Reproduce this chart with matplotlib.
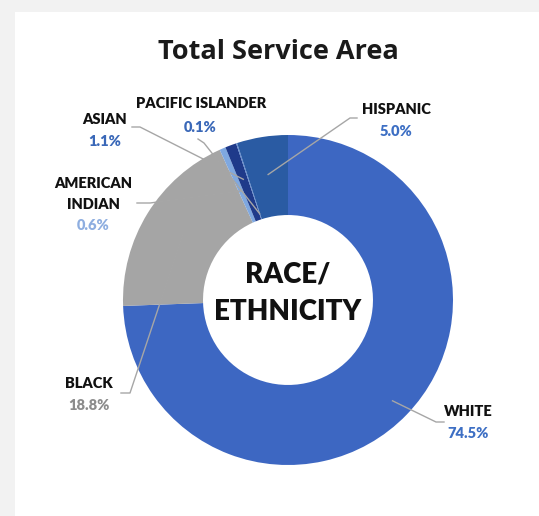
import numpy as np
import matplotlib.pyplot as plt
from matplotlib.patches import Rectangle

# data
groups = ['WHITE', 'BLACK', 'AMERICAN\nINDIAN', 'ASIAN', 'PACIFIC ISLANDER', 'HISPANIC']
shares = [74.5, 18.8, 0.6, 1.1, 0.1, 5.0]
pct_labels = ['74.5%', '18.8%', '0.6%', '1.1%', '0.1%', '5.0%']

slice_colors = ['#3d67c2', '#a5a5a5', '#7fa8e0', '#1f3a8a', '#5a86d0', '#2a5ba3']
pct_colors = ['#3d6fc4', '#8c8c8c', '#8eaee0', '#3a68b8', '#3a68b8', '#3d6fc4']

W, H = 539, 516


def Y(y):
    # pixel row (from top) -> data y
    return H - y


fig = plt.figure(figsize=(W / 100, H / 100), dpi=100, facecolor='#f2f2f2')
fig.patches.append(Rectangle((15 / W, 0), 1 - 15 / W, 1 - 12 / H,
                             transform=fig.transFigure, facecolor='white',
                             edgecolor='none', zorder=-1))
ax = fig.add_axes([0, 0, 1, 1])
ax.patch.set_alpha(0)

cx, cy, R = 288, Y(300), 165
wedges, _ = ax.pie(shares, colors=slice_colors, startangle=90, counterclock=False,
                   center=(cx, cy), radius=R,
                   wedgeprops=dict(width=R * 0.485, edgecolor='none'))
ax.set_xlim(0, W)
ax.set_ylim(0, H)
ax.axis('off')


def anchor(w, frac):
    th = np.deg2rad((w.theta1 + w.theta2) / 2)
    return cx + R * frac * np.cos(th), cy + R * frac * np.sin(th)


# label layout (pixel positions): name, pct, leader start points, anchor radius
layout = [
    ((468, 412), (468, 433), [(444, 422), (436, 422)], 0.88),
    ((89, 384), (89, 406), [(121, 393), (130, 393)], 0.75),
    ((93, 194), (93, 226), [(137, 203), (150, 203)], 0.72),
    ((105, 119), (105, 141), [(132, 127), (140, 127)], 0.78),
    ((201, 104), (200, 127), [(198, 139), (204, 143)], 0.55),
    ((396, 109), (396, 132), [(357, 118), (350, 118)], 0.77),
]

lbl_font = dict(family=['Lato', 'DejaVu Sans'], fontweight='heavy', fontsize=10.5)
for w, name, pct, pc, (npos, ppos, pts, fr) in zip(wedges, groups, pct_labels, pct_colors, layout):
    ax.text(npos[0], Y(npos[1]), name, ha='center', va='center', color='#111111',
            linespacing=1.8, **lbl_font)
    ax.text(ppos[0], Y(ppos[1]), pct, ha='center', va='center', color=pc, **lbl_font)
    ax_, ay_ = anchor(w, fr)
    xs = [p[0] for p in pts] + [ax_]
    ys = [Y(p[1]) for p in pts] + [ay_]
    ax.plot(xs, ys, color='#a6a6a6', lw=1, zorder=5)

ax.text(cx, Y(275), 'RACE/', ha='center', va='center', fontsize=20,
        fontweight='heavy', family=['Lato', 'DejaVu Sans'], color='#111111')
ax.text(cx, Y(312), 'ETHNICITY', ha='center', va='center', fontsize=20,
        fontweight='heavy', family=['Lato', 'DejaVu Sans'], color='#111111')

fig.text(278 / W, 1 - 52 / H, 'Total Service Area', ha='center', va='center',
         fontsize=19.5, fontweight='bold', family=['Open Sans', 'DejaVu Sans'],
         color='#1a1a1a')

fig.savefig('out.png', dpi=100, facecolor=fig.get_facecolor())
